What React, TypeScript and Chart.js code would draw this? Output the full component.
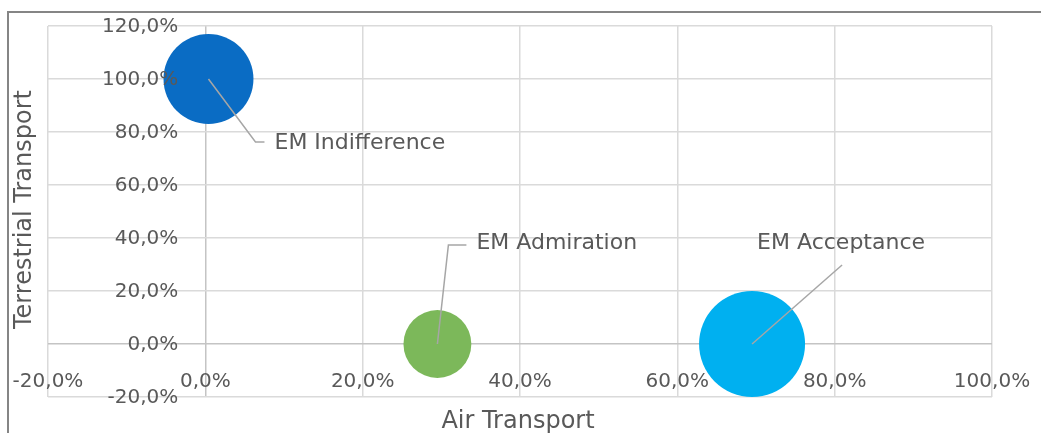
import React, { useEffect, useRef } from "react";
import { Chart, registerables } from "chart.js";

Chart.register(...registerables);

const seriesNames = ["EM Indifference", "EM Admiration", "EM Acceptance"];
const airTransport = [0.4, 29.5, 69.5];
const terrestrialTransport = [100, 0, 0];
const bubbleSize = [72, 41, 100];
const seriesColors = ["#0A6CC4", "#7CB85A", "#00B0F0"];
const xTicks = [-20, 0, 20, 40, 60, 80, 100];
const yTicks = [-20, 0, 20, 40, 60, 80, 100, 120];
const xTitle = "Air Transport";
const yTitle = "Terrestrial Transport";

const FONT = "'DejaVu Sans', sans-serif";
const TEXT = "#595959";
const MAX_R = 53;

const fmt = (v: number) => v.toFixed(1).replace(".", ",") + "%";

// label leader geometry, relative to the bubble centre (pixels)
const labelLayout = [
  { pts: [[47, 63], [56, 63]], tx: 66, ty: 64, align: "left" },
  { pts: [[11, -99], [29, -99]], tx: 39, ty: -101, align: "left" },
  { pts: [[90, -79]], tx: 89, ty: -101, align: "center" },
];

const overlay = {
  id: "overlay",
  beforeDraw(chart: any) {
    const ctx = chart.ctx;
    ctx.save();
    ctx.strokeStyle = "#858585";
    ctx.lineWidth = 2;
    ctx.beginPath();
    ctx.moveTo(8, 433);
    ctx.lineTo(8, 12);
    ctx.lineTo(1041, 12);
    ctx.stroke();
    ctx.restore();
  },
  afterDraw(chart: any) {
    const ctx = chart.ctx;
    const xs = chart.scales.x;
    const ys = chart.scales.y;
    ctx.save();
    ctx.fillStyle = TEXT;
    ctx.font = `20px ${FONT}`;
    ctx.textBaseline = "middle";
    const y0 = ys.getPixelForValue(0);
    const x0 = xs.getPixelForValue(0);
    ctx.textAlign = "center";
    xTicks.forEach((v) => {
      ctx.fillText(fmt(v), xs.getPixelForValue(v), y0 + 38);
    });
    ctx.textAlign = "right";
    yTicks.forEach((v) => {
      ctx.fillText(fmt(v), x0 - 27, ys.getPixelForValue(v) + 1);
    });
    // axis titles
    ctx.font = `24px ${FONT}`;
    ctx.textAlign = "center";
    ctx.fillText(xTitle, (chart.chartArea.left + chart.chartArea.right) / 2 - 2, 422);
    ctx.save();
    ctx.translate(25, (chart.chartArea.top + chart.chartArea.bottom) / 2 - 2);
    ctx.rotate(-Math.PI / 2);
    ctx.fillText(yTitle, 0, 0);
    ctx.restore();
    // data labels with leader lines
    chart.data.datasets.forEach((ds: any, i: number) => {
      const el = chart.getDatasetMeta(i).data[0];
      const cx = el.x;
      const cy = el.y;
      const lay = labelLayout[i];
      ctx.strokeStyle = "#a6a6a6";
      ctx.lineWidth = 1.5;
      ctx.beginPath();
      ctx.moveTo(cx, cy);
      lay.pts.forEach((p) => ctx.lineTo(cx + p[0], cy + p[1]));
      ctx.stroke();
      ctx.font = `22px ${FONT}`;
      ctx.textAlign = lay.align;
      ctx.fillStyle = TEXT;
      ctx.fillText(ds.label, cx + lay.tx, cy + lay.ty);
    });
    ctx.restore();
  },
};

export default function App() {
  const ref = useRef<HTMLCanvasElement | null>(null);
  useEffect(() => {
    if (!ref.current) return;
    const chart = new Chart(ref.current, {
      type: "bubble",
      data: {
        datasets: seriesNames.map((name, i) => ({
          label: name,
          data: [
            {
              x: airTransport[i],
              y: terrestrialTransport[i],
              r: MAX_R * Math.sqrt(bubbleSize[i] / 100),
            },
          ],
          backgroundColor: seriesColors[i],
          borderColor: seriesColors[i],
          borderWidth: 0,
          clip: false as any,
        })),
      },
      options: {
        animation: false,
        responsive: true,
        maintainAspectRatio: false,
        layout: { autoPadding: false, padding: { left: 48, right: 49, top: 26, bottom: 36 } },
        plugins: {
          legend: { display: false },
          tooltip: { enabled: false },
        },
        scales: {
          x: {
            type: "linear",
            min: -20,
            max: 100,
            ticks: { display: false, stepSize: 20 },
            border: { display: false },
            grid: {
              drawTicks: false,
              lineWidth: 1.5,
              color: (c: any) => (c.tick && c.tick.value === 0 ? "#c4c4c4" : "#dadada"),
            },
          },
          y: {
            type: "linear",
            min: -20,
            max: 120,
            ticks: { display: false, stepSize: 20 },
            border: { display: false },
            grid: {
              drawTicks: false,
              lineWidth: 1.5,
              color: (c: any) => (c.tick && c.tick.value === 0 ? "#c4c4c4" : "#dadada"),
            },
          },
        },
      },
      plugins: [overlay],
    });
    return () => chart.destroy();
  }, []);
  return (
    <div style={{ position: "fixed", left: 0, top: 0, width: 1041, height: 433, background: "#fff" }}>
      <canvas ref={ref} />
    </div>
  );
}
